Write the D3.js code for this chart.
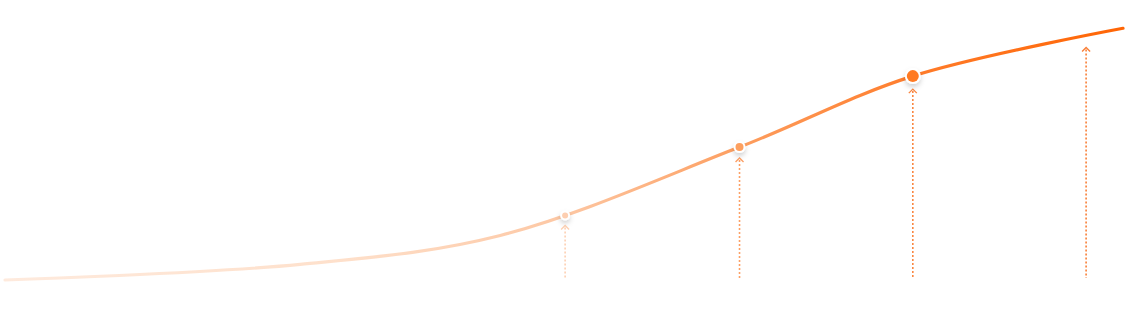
<!DOCTYPE html>
<html>
<head>
<meta charset="utf-8">
<script src="https://cdn.jsdelivr.net/npm/d3@7"></script>
<style>
  html, body { margin: 0; padding: 0; background: #fff; }
  svg { display: block; }
</style>
</head>
<body>
<script>
const width = 1140;
const height = 311;

// curve samples (progress along x, growth value)
const progress = [0, 26.4, 44.3, 65.7, 81.2, 100];
const growth = [0, 6.2, 17.7, 52.8, 81.0, 100];

// milestones marked by dotted arrows
const milestones = [50.1, 65.7, 81.2, 96.7];
const dotSizes = [3, 4, 6, 0];
const milestoneColors = ['#fdd0b2', '#fca066', '#fa8741', '#f97f37'];
const dotColors = ['#fdceb0', '#fd9f5f', '#ff7a22', null];

const gradientStops = [
  { offset: 0, color: '#feeadd' },
  { offset: 0.3, color: '#fee0cb' },
  { offset: 0.5, color: '#fdc7a3' },
  { offset: 0.66, color: '#fd9d5e' },
  { offset: 0.82, color: '#ff7b29' },
  { offset: 1, color: '#ff6505' },
];

const x = d3.scaleLinear().domain([0, 100]).range([5, 1123]);
const y = d3.scaleLinear().domain([0, 100]).range([280, 28.3]);
const baseline = 278;

const data = progress.map((p, i) => ({ p, v: growth[i] }));

const svg = d3.select('body')
  .append('svg')
    .attr('width', width)
    .attr('height', height);

const defs = svg.append('defs');

defs.append('linearGradient')
    .attr('id', 'line-gradient')
    .attr('gradientUnits', 'userSpaceOnUse')
    .attr('x1', x(0)).attr('x2', x(100))
    .attr('y1', 0).attr('y2', 0)
  .selectAll('stop')
  .data(gradientStops)
  .join('stop')
    .attr('offset', (d) => d.offset)
    .attr('stop-color', (d) => d.color);

const shadow = defs.append('filter')
    .attr('id', 'dot-shadow')
    .attr('x', '-100%').attr('y', '-100%')
    .attr('width', '300%').attr('height', '300%');

shadow.append('feDropShadow')
    .attr('dx', 0)
    .attr('dy', 3)
    .attr('stdDeviation', 2.5)
    .attr('flood-color', '#000')
    .attr('flood-opacity', 0.18);

const line = d3.line()
  .x((d) => x(d.p))
  .y((d) => y(d.v))
  .curve(d3.curveCatmullRom.alpha(0.5));

const gGuides = svg.append('g').attr('class', 'guides');

const curve = svg.append('path')
    .datum(data)
    .attr('d', line)
    .attr('fill', 'none')
    .attr('stroke', 'url(#line-gradient)')
    .attr('stroke-width', 3.2)
    .attr('stroke-linecap', 'round');

// find the curve's y at a given x on the drawn path
const node = curve.node();
const total = node.getTotalLength();
const yOnCurve = (px) => {
  let lo = 0;
  let hi = total;
  for (let k = 0; k < 40; k++) {
    const mid = (lo + hi) / 2;
    if (node.getPointAtLength(mid).x < px) lo = mid; else hi = mid;
  }
  return node.getPointAtLength((lo + hi) / 2).y;
};

const markers = milestones.map((p, i) => ({
  cx: x(p),
  cy: yOnCurve(x(p)),
  r: dotSizes[i],
  color: milestoneColors[i],
  dot: dotColors[i],
}));

gGuides.selectAll('g')
  .data(markers)
  .join('g')
  .each(function (d) {
    const g = d3.select(this);
    const tip = d.cy + (d.r ? d.r + 2 + 5 : 12);

    g.append('line')
        .attr('x1', d.cx).attr('x2', d.cx)
        .attr('y1', tip + 2).attr('y2', baseline)
        .attr('stroke', d.color)
        .attr('stroke-width', 1.6)
        .attr('stroke-dasharray', '2 2');

    g.append('path')
        .attr('d', `M${d.cx - 4},${tip + 4}L${d.cx},${tip}L${d.cx + 4},${tip + 4}`)
        .attr('fill', 'none')
        .attr('stroke', d.color)
        .attr('stroke-width', 1.4);
  });

const dots = svg.append('g')
    .attr('class', 'dots')
  .selectAll('g')
  .data(markers.filter((d) => d.r > 0))
  .join('g')
    .attr('transform', (d) => `translate(${d.cx},${d.cy})`);

dots.append('circle')
    .attr('r', (d) => d.r + 2)
    .attr('fill', '#fff')
    .attr('filter', 'url(#dot-shadow)');

dots.append('circle')
    .attr('r', (d) => d.r)
    .attr('fill', (d) => d.dot);
</script>
</body>
</html>
